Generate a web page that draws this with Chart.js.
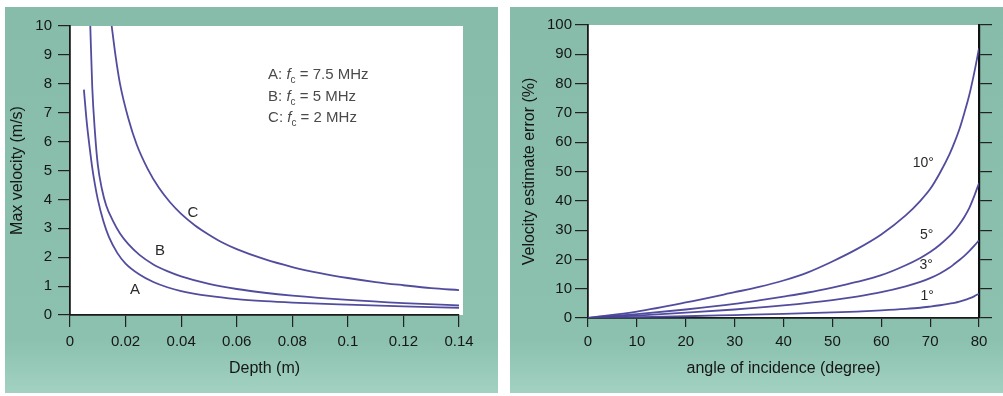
<!DOCTYPE html>
<html>
<head>
<meta charset="utf-8">
<script src="https://cdn.jsdelivr.net/npm/chart.js@4.4.0/dist/chart.umd.min.js"></script>
<style>
  html, body { margin: 0; padding: 0; background: #fff; }
  body { width: 1003px; height: 396px; position: relative; overflow: hidden; }
  .panel {
    position: absolute; top: 7px; width: 493px; height: 386px;
    background: linear-gradient(to bottom, #86bca9 0%, #8bc1ae 86%, #a2d1c2 100%);
  }
  #left { left: 5px; }
  #right { left: 510px; }
  canvas { display: block; }
</style>
</head>
<body>
<div class="panel" id="left"><canvas id="depthChart" width="493" height="386"></canvas></div>
<div class="panel" id="right"><canvas id="angleChart" width="493" height="386"></canvas></div>
<script>
// ---- left chart: max velocity vs depth ----
const depthTicks = [0, 0.02, 0.04, 0.06, 0.08, 0.1, 0.12, 0.14];
const velTicks = [0, 1, 2, 3, 4, 5, 6, 7, 8, 9, 10];

const depthA = [0.005, 0.006, 0.007, 0.008, 0.009, 0.01, 0.012, 0.014, 0.017, 0.02, 0.025, 0.03, 0.035, 0.04, 0.05, 0.06, 0.07, 0.08, 0.1, 0.12, 0.14];
const velA = [7.8, 6.7, 5.85, 5.1, 4.5, 4.0, 3.25, 2.7, 2.15, 1.78, 1.4, 1.14, 0.96, 0.83, 0.66, 0.55, 0.48, 0.43, 0.36, 0.3, 0.25];

const depthB = [0.0073, 0.008, 0.009, 0.01, 0.0115, 0.013, 0.0155, 0.018, 0.021, 0.025, 0.03, 0.035, 0.04, 0.05, 0.06, 0.07, 0.08, 0.1, 0.12, 0.14];
const velB = [10, 7.9, 6.3, 5.2, 4.35, 3.8, 3.25, 2.82, 2.45, 2.08, 1.75, 1.52, 1.34, 1.08, 0.9, 0.77, 0.67, 0.52, 0.41, 0.33];

const depthC = [0.015, 0.0165, 0.018, 0.021, 0.024, 0.028, 0.032, 0.036, 0.04, 0.045, 0.05, 0.055, 0.06, 0.07, 0.08, 0.09, 0.1, 0.11, 0.12, 0.13, 0.14];
const velC = [10, 8.9, 8.0, 6.8, 5.9, 5.05, 4.4, 3.9, 3.5, 3.1, 2.78, 2.5, 2.28, 1.93, 1.66, 1.45, 1.28, 1.14, 1.03, 0.93, 0.86];

const curveNames = ["A", "B", "C"];
const curveLabelDepth = [0.0234, 0.0324, 0.0442];
const curveLabelVel = [0.87, 2.22, 3.54];

const legendFreq = ["7.5", "5", "2"];
const legendDepth = 0.0713;
const legendVel = [8.3, 7.55, 6.82];

// ---- right chart: velocity error vs angle ----
const angleTicks = [0, 10, 20, 30, 40, 50, 60, 70, 80];
const errorTicks = [0, 10, 20, 30, 40, 50, 60, 70, 80, 90, 100];

const angle10 = [0, 10, 20, 30, 35, 40, 45, 50, 55, 60, 65, 68, 70, 72, 74, 75, 76, 77, 78, 79, 80];
const err10 = [0, 2.2, 5.3, 8.8, 10.6, 12.8, 15.6, 19.3, 23.5, 28.5, 35, 40, 44, 49.5, 56, 60, 64.5, 70, 76, 83.5, 92];

const angle5 = [0, 10, 20, 30, 35, 40, 45, 50, 55, 60, 65, 68, 70, 72, 74, 75, 76, 77, 78, 79, 80];
const err5 = [0, 1.3, 2.9, 4.8, 6.0, 7.3, 8.7, 10.4, 12.3, 14.6, 18, 20.5, 22.5, 25, 28, 29.8, 32, 34.5, 37.5, 41.5, 46];

const angle3 = [0, 10, 20, 30, 40, 50, 55, 60, 65, 68, 70, 72, 74, 75, 76, 77, 78, 79, 80];
const err3 = [0, 0.8, 1.8, 2.9, 4.3, 6.1, 7.3, 8.8, 10.8, 12.3, 13.6, 15.2, 17.2, 18.5, 19.8, 21.2, 22.8, 24.6, 26.5];

const angle1 = [0, 10, 20, 30, 40, 50, 55, 60, 65, 68, 70, 72, 74, 75, 76, 77, 78, 79, 80];
const err1 = [0, 0.3, 0.6, 1.0, 1.4, 1.9, 2.2, 2.6, 3.1, 3.5, 3.9, 4.35, 4.9, 5.2, 5.6, 6.1, 6.7, 7.4, 8.3];

const angleNames = ["10°", "5°", "3°", "1°"];
const angleLabelX = [68.6, 69.3, 69.2, 69.4];
const angleLabelY = [52.8, 28.3, 18.1, 7.5];

const lineColor = "rgba(72, 66, 152, 0.95)";
const inkColor = "#161616";
const fontFamily = "'Liberation Sans', Arial, sans-serif";

function toPoints(xs, ys) {
  return xs.map((x, i) => ({ x: x, y: ys[i] }));
}

function curve(xs, ys) {
  return {
    data: toPoints(xs, ys),
    showLine: true,
    borderColor: lineColor,
    borderWidth: 1.8,
    pointRadius: 0,
    cubicInterpolationMode: "monotone",
    fill: false,
  };
}

function useTicks(values) {
  return (scale) => {
    scale.ticks = values.map((v) => ({ value: v }));
  };
}

function fmt(v) {
  return String(Number(v.toFixed(2)));
}

// white plot background
const whiteArea = {
  id: "whiteArea",
  beforeDraw(chart, args, opts) {
    const a = chart.chartArea;
    const ctx = chart.ctx;
    ctx.save();
    ctx.fillStyle = "#fff";
    ctx.fillRect(a.left, a.top, a.right - a.left + (opts.right || 0), a.bottom - a.top);
    ctx.restore();
  },
};

// curve labels on the left chart + legend box text
const depthText = {
  id: "depthText",
  afterDatasetsDraw(chart) {
    const ctx = chart.ctx;
    const xs = chart.scales.x;
    const ys = chart.scales.y;
    ctx.save();
    ctx.fillStyle = "#2a2a2a";
    ctx.font = "15px " + fontFamily;
    ctx.textAlign = "center";
    ctx.textBaseline = "middle";
    curveNames.forEach((n, i) => {
      ctx.fillText(n, xs.getPixelForValue(curveLabelDepth[i]), ys.getPixelForValue(curveLabelVel[i]));
    });

    ctx.textAlign = "left";
    ctx.fillStyle = "#4a4a4a";
    curveNames.forEach((n, i) => {
      let x = xs.getPixelForValue(legendDepth);
      const y = ys.getPixelForValue(legendVel[i]);
      ctx.font = "15px " + fontFamily;
      const s = n + ": ";
      ctx.fillText(s, x, y);
      x += ctx.measureText(s).width;
      ctx.font = "italic 15px " + fontFamily;
      ctx.fillText("f", x, y);
      x += ctx.measureText("f").width;
      ctx.font = "10px " + fontFamily;
      ctx.fillText("c", x, y + 5);
      x += ctx.measureText("c").width;
      ctx.font = "15px " + fontFamily;
      ctx.fillText(" = " + legendFreq[i] + " MHz", x, y);
    });
    ctx.restore();
  },
};

const angleText = {
  id: "angleText",
  afterDatasetsDraw(chart) {
    const ctx = chart.ctx;
    const xs = chart.scales.x;
    const ys = chart.scales.y;
    ctx.save();
    ctx.fillStyle = "#2a2a2a";
    ctx.font = "14px " + fontFamily;
    ctx.textAlign = "center";
    ctx.textBaseline = "middle";
    angleNames.forEach((n, i) => {
      ctx.fillText(n, xs.getPixelForValue(angleLabelX[i]), ys.getPixelForValue(angleLabelY[i]));
    });
    ctx.restore();
  },
};

const tickFont = { family: fontFamily, size: 15 };
const titleFont = { family: fontFamily, size: 16 };

new Chart("depthChart", {
  type: "scatter",
  data: {
    datasets: [curve(depthA, velA), curve(depthB, velB), curve(depthC, velC)],
  },
  options: {
    responsive: false,
    animation: false,
    layout: { padding: { left: 0, top: 19, right: 39, bottom: 0 } },
    plugins: { legend: { display: false }, tooltip: { enabled: false }, whiteArea: { right: 4 } },
    scales: {
      x: {
        type: "linear",
        min: 0,
        max: 0.14,
        afterBuildTicks: useTicks(depthTicks),
        afterFit: (s) => { s.height = 78; },
        grid: { drawOnChartArea: false, drawTicks: true, tickLength: 12, color: "#222", lineWidth: 1.2 },
        border: { display: true, color: "#1a1a1a", width: 1.8 },
        ticks: { color: inkColor, font: tickFont, padding: 6, maxRotation: 0, callback: (v) => fmt(v) },
        title: { display: true, text: "Depth (m)", color: inkColor, font: titleFont, padding: { top: 0, bottom: 15 } },
      },
      y: {
        type: "linear",
        min: 0,
        max: 10,
        afterBuildTicks: useTicks(velTicks),
        afterFit: (s) => { s.width = 65; },
        grid: { drawOnChartArea: false, drawTicks: true, tickLength: 12, color: "#222", lineWidth: 1.2 },
        border: { display: true, color: "#1a1a1a", width: 1.8 },
        ticks: { color: inkColor, font: tickFont, padding: 6 },
        title: { display: true, text: "Max velocity (m/s)", color: inkColor, font: titleFont, padding: { top: 3, bottom: 0 } },
      },
    },
  },
  plugins: [whiteArea, depthText],
});

new Chart("angleChart", {
  type: "scatter",
  data: {
    datasets: [curve(angle10, err10), curve(angle5, err5), curve(angle3, err3), curve(angle1, err1)],
  },
  options: {
    responsive: false,
    animation: false,
    layout: { padding: { left: 0, top: 18, right: 10, bottom: 0 } },
    plugins: { legend: { display: false }, tooltip: { enabled: false }, whiteArea: {} },
    scales: {
      x: {
        type: "linear",
        min: 0,
        max: 80,
        afterBuildTicks: useTicks(angleTicks),
        afterFit: (s) => { s.height = 75; },
        grid: { drawOnChartArea: false, drawTicks: true, tickLength: 9, color: "#222", lineWidth: 1.2 },
        border: { display: true, color: "#1a1a1a", width: 1.8 },
        ticks: { color: inkColor, font: tickFont, padding: 6, maxRotation: 0 },
        title: { display: true, text: "angle of incidence (degree)", color: inkColor, font: titleFont, padding: { top: 0, bottom: 15 } },
      },
      y: {
        type: "linear",
        min: 0,
        max: 100,
        afterBuildTicks: useTicks(errorTicks),
        afterFit: (s) => { s.width = 78; },
        grid: { drawOnChartArea: false, drawTicks: true, tickLength: 13, color: "#222", lineWidth: 1.2 },
        border: { display: true, color: "#1a1a1a", width: 1.8 },
        ticks: { color: inkColor, font: tickFont, padding: 3 },
        title: { display: true, text: "Velocity estimate error (%)", color: inkColor, font: titleFont, padding: { top: 10, bottom: 0 } },
      },
      y2: {
        type: "linear",
        position: "right",
        min: 0,
        max: 100,
        afterBuildTicks: useTicks(errorTicks),
        afterFit: (s) => { s.width = 14; },
        grid: { drawOnChartArea: false, drawTicks: true, tickLength: 13, color: "#222", lineWidth: 1.2 },
        border: { display: true, color: "#111", width: 2.2 },
        ticks: { display: false },
      },
    },
  },
  plugins: [whiteArea, angleText],
});
</script>
</body>
</html>
